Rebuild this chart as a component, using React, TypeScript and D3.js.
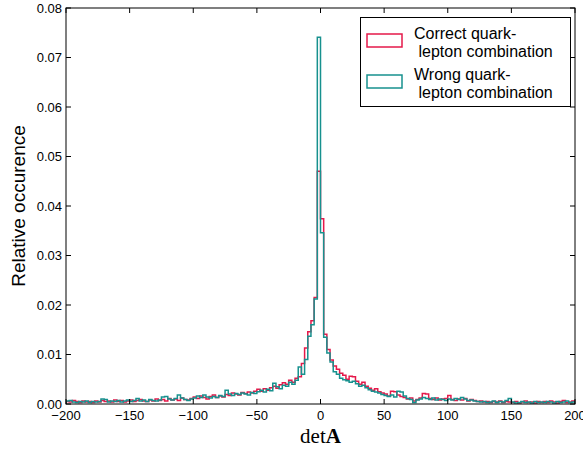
import React from "react";
import * as d3 from "d3";

const binStart = -200;
const binWidth = 2.5;

const correctValues = [
  0.0005, 0.0004, 0.0007, 0.0005, 0.0003, 0.0006, 0.0004, 0.0005, 0.0003, 0.0006,
  0.0004, 0.0007, 0.0005, 0.0006, 0.0004, 0.0008, 0.0005, 0.0007, 0.0004, 0.0006,
  0.0008, 0.0005, 0.0007, 0.0009, 0.0006, 0.0005, 0.0008, 0.0006, 0.0010, 0.0007,
  0.0009, 0.0006, 0.0011, 0.0008, 0.0010, 0.0007, 0.0012, 0.0009, 0.0008, 0.0011,
  0.0014, 0.0011, 0.0016, 0.0013, 0.0010, 0.0015, 0.0018, 0.0013, 0.0016, 0.0014,
  0.0019, 0.0017, 0.0022, 0.0020, 0.0018, 0.0023, 0.0021, 0.0024, 0.0022, 0.0026,
  0.0030, 0.0026, 0.0031, 0.0028, 0.0033, 0.0036, 0.0032, 0.0039, 0.0043, 0.0040,
  0.0048, 0.0044, 0.0052, 0.0055, 0.0082, 0.0113, 0.0146, 0.0168, 0.0215, 0.0470,
  0.0374, 0.0141, 0.0110, 0.0089, 0.0077, 0.0070, 0.0062, 0.0058, 0.0050, 0.0056,
  0.0055, 0.0046, 0.0040, 0.0044, 0.0036, 0.0032, 0.0028, 0.0031, 0.0025, 0.0022,
  0.0020, 0.0016, 0.0026, 0.0025, 0.0018, 0.0015, 0.0013, 0.0010, 0.0012, 0.0006,
  0.0009, 0.0012, 0.0021, 0.0020, 0.0011, 0.0009, 0.0012, 0.0008, 0.0010, 0.0011,
  0.0017, 0.0009, 0.0007, 0.0010, 0.0008, 0.0011, 0.0006, 0.0009, 0.0007, 0.0005,
  0.0006, 0.0004, 0.0005, 0.0003, 0.0005, 0.0004, 0.0006, 0.0003, 0.0005, 0.0004,
  0.0003, 0.0005, 0.0002, 0.0004, 0.0006, 0.0003, 0.0004, 0.0002, 0.0005, 0.0003,
  0.0005, 0.0003, 0.0006, 0.0004, 0.0002, 0.0005, 0.0007, 0.0003, 0.0004, 0.0006,
];

const wrongValues = [
  0.0006, 0.0007, 0.0004, 0.0003, 0.0005, 0.0004, 0.0006, 0.0003, 0.0005, 0.0004,
  0.0005, 0.0010, 0.0009, 0.0004, 0.0006, 0.0005, 0.0007, 0.0004, 0.0006, 0.0008,
  0.0005, 0.0007, 0.0011, 0.0006, 0.0008, 0.0005, 0.0009, 0.0007, 0.0006, 0.0008,
  0.0014, 0.0015, 0.0010, 0.0008, 0.0011, 0.0018, 0.0012, 0.0009, 0.0007, 0.0010,
  0.0012, 0.0016, 0.0013, 0.0018, 0.0014, 0.0012, 0.0015, 0.0013, 0.0017, 0.0015,
  0.0028, 0.0020, 0.0017, 0.0021, 0.0019, 0.0022, 0.0020, 0.0018, 0.0023, 0.0021,
  0.0025, 0.0028, 0.0024, 0.0030, 0.0027, 0.0042, 0.0035, 0.0031, 0.0038, 0.0036,
  0.0044, 0.0040, 0.0048, 0.0075, 0.0060, 0.0090, 0.0137, 0.0160, 0.0212, 0.0741,
  0.0346, 0.0135, 0.0103, 0.0085, 0.0065, 0.0060, 0.0052, 0.0049, 0.0047, 0.0044,
  0.0046, 0.0041, 0.0036, 0.0038, 0.0033, 0.0029, 0.0026, 0.0024, 0.0022, 0.0019,
  0.0017, 0.0015, 0.0018, 0.0014, 0.0026, 0.0024, 0.0016, 0.0011, 0.0009, 0.0003,
  0.0008, 0.0010, 0.0013, 0.0011, 0.0009, 0.0012, 0.0008, 0.0010, 0.0009, 0.0007,
  0.0010, 0.0008, 0.0011, 0.0009, 0.0013, 0.0010, 0.0007, 0.0008, 0.0006, 0.0005,
  0.0004, 0.0005, 0.0003, 0.0004, 0.0006, 0.0003, 0.0005, 0.0004, 0.0007, 0.0011,
  0.0004, 0.0002, 0.0003, 0.0005, 0.0003, 0.0004, 0.0002, 0.0005, 0.0003, 0.0004,
  0.0003, 0.0005, 0.0004, 0.0002, 0.0005, 0.0003, 0.0004, 0.0006, 0.0003, 0.0004,
];

const xTicks = [-200, -150, -100, -50, 0, 50, 100, 150, 200];
const yTicks = [0, 0.01, 0.02, 0.03, 0.04, 0.05, 0.06, 0.07, 0.08];
const legendLabels = [
  ["Correct quark-", " lepton combination"],
  ["Wrong quark-", " lepton combination"],
];

const RED = "#e5194a";
const TEAL = "#17918e";

const W = 583;
const H = 451;
const left = 66;
const right = 575;
const top = 8;
const bottom = 404;

const x = d3.scaleLinear().domain([-200, 200]).range([left, right]);
const y = d3.scaleLinear().domain([0, 0.08]).range([bottom, top]);

function stepPath(values: number[]): string {
  const p = d3.path();
  p.moveTo(x(binStart), y(0));
  values.forEach((v, i) => {
    const x0 = x(binStart + i * binWidth);
    const x1 = x(binStart + (i + 1) * binWidth);
    p.lineTo(x0, y(v));
    p.lineTo(x1, y(v));
  });
  p.lineTo(x(binStart + values.length * binWidth), y(0));
  return p.toString();
}

const fmtMinus = (v: number) => (v < 0 ? "\u2212" + Math.abs(v) : String(v));

export default function App() {
  const font = "'Liberation Sans', Arial, Helvetica, sans-serif";
  const tickLen = 5;
  return (
    <svg width={W} height={H} style={{ position: "absolute", left: 0, top: 0 }}>
      <rect x={0} y={0} width={W} height={H} fill="#fff" />
      <defs>
        <clipPath id="plotclip">
          <rect x={left} y={top} width={right - left} height={bottom - top} />
        </clipPath>
      </defs>
      <g clipPath="url(#plotclip)">
        <path d={stepPath(correctValues)} fill="none" stroke={RED} strokeWidth={1.5} strokeLinejoin="miter" />
        <path d={stepPath(wrongValues)} fill="none" stroke={TEAL} strokeWidth={1.5} strokeLinejoin="miter" />
      </g>
      <rect x={left} y={top} width={right - left} height={bottom - top} fill="none" stroke="#000" strokeWidth={1} />
      {xTicks.map((t) => (
        <g key={"x" + t}>
          <line x1={x(t)} x2={x(t)} y1={bottom} y2={bottom - tickLen} stroke="#000" />
          <line x1={x(t)} x2={x(t)} y1={top} y2={top + tickLen} stroke="#000" />
          <text x={x(t)} y={bottom + 16} textAnchor="middle" fontFamily={font} fontSize={13}>
            {fmtMinus(t)}
          </text>
        </g>
      ))}
      {yTicks.map((t) => (
        <g key={"y" + t}>
          <line x1={left} x2={left + tickLen} y1={y(t)} y2={y(t)} stroke="#000" />
          <line x1={right} x2={right - tickLen} y1={y(t)} y2={y(t)} stroke="#000" />
          <text x={left - 4} y={y(t) + 4.5} textAnchor="end" fontFamily={font} fontSize={13}>
            {t.toFixed(2)}
          </text>
        </g>
      ))}
      <text
        transform={`translate(25, ${(top + bottom) / 2}) rotate(-90)`}
        textAnchor="middle"
        fontFamily={font}
        fontSize={19}
      >
        Relative occurence
      </text>
      <text x={(left + right) / 2} y={443} textAnchor="middle" fontFamily="'Liberation Serif', 'DejaVu Serif', serif" fontSize={21}>
        det<tspan fontWeight="bold">A</tspan>
      </text>
      <g>
        <rect x={360.5} y={17.5} width={210} height={89} fill="#fff" stroke="#000" strokeWidth={1} />
        {legendLabels.map((lines, i) => {
          const base = 39 + i * 41;
          const color = i === 0 ? RED : TEAL;
          return (
            <g key={"leg" + i}>
              <rect x={367} y={base - 5} width={35} height={13} fill="none" stroke={color} strokeWidth={1.5} />
              <text x={414} y={base} fontFamily={font} fontSize={16}>
                {lines[0]}
              </text>
              <text x={414} y={base + 18} fontFamily={font} fontSize={16} style={{ whiteSpace: "pre" }}>
                {lines[1]}
              </text>
            </g>
          );
        })}
      </g>
    </svg>
  );
}
